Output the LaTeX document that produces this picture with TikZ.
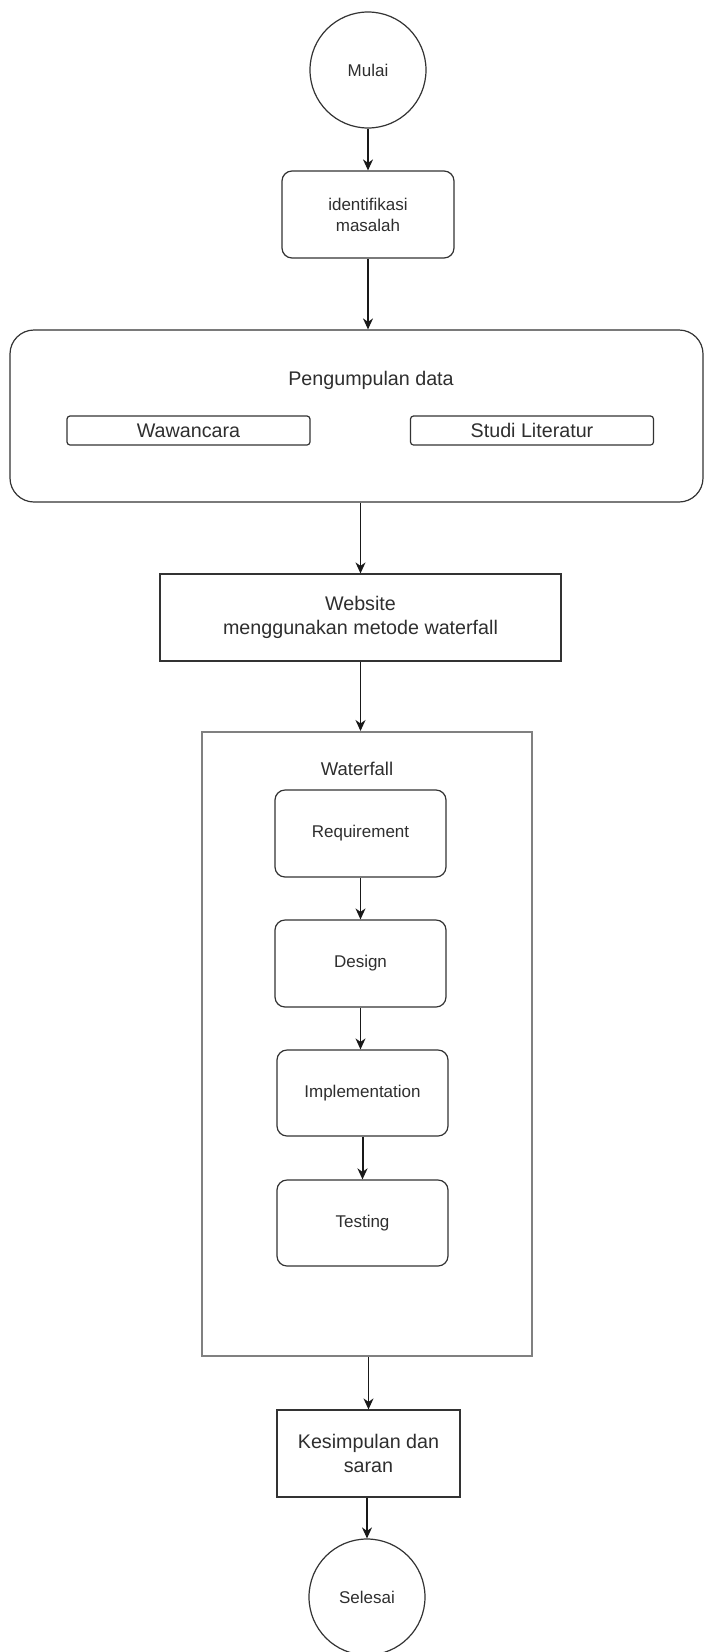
\documentclass[tikz,border=0pt]{standalone}
\usepackage{fontspec}
\setmainfont{Liberation Sans}
\usetikzlibrary{arrows.meta}
\begin{document}
\begin{tikzpicture}[x=1pt,y=-1pt,
  line width=1.2pt,
  every node/.style={text=black!82, align=center, inner sep=0pt},
  smalltxt/.style={font=\fontsize{17}{21}\selectfont},
  bigtxt/.style={font=\fontsize{19.7}{24.5}\selectfont},
  term/.style={draw=black!80, circle, minimum size=116pt, smalltxt},
  rbox/.style={draw=black!80, rounded corners=10pt, smalltxt},
  pbox/.style={draw=black!80, bigtxt},
  sub/.style={draw=black!80, rounded corners=3pt, minimum width=243pt, minimum height=29pt, bigtxt},
  flow/.style={-{Stealth[length=11pt,width=10pt,inset=3.5pt]}, draw=black!90}
]
\useasboundingbox (0,0) rectangle (705,1652);

% nodes
\node[term] (mulai) at (368,70) {Mulai};
\node[rbox, minimum width=172pt, minimum height=87pt] (ident) at (368,214.5) {identifikasi\\masalah};

\node[draw=black!80, rounded corners=24pt, minimum width=693pt, minimum height=172pt] (peng) at (356.5,416) {};
\node[bigtxt] (pengt) at (371,380) {Pengumpulan data};
\node[sub] (waw) at (188.5,430.5) {Wawancara};
\node[sub] (studi) at (532,430.5) {Studi Literatur};

\node[pbox, minimum width=401pt, minimum height=87pt] (web) at (360.5,617.5) {Website\\menggunakan metode waterfall};

\node[draw=black!50, line width=2pt, minimum width=330pt, minimum height=624pt] (wf) at (367,1044) {};
\node[font=\fontsize{18.5}{22}\selectfont] (wft) at (357,769) {Waterfall};

\node[rbox, minimum width=171pt, minimum height=87pt] (req) at (360.5,833.5) {Requirement};
\node[rbox, minimum width=171pt, minimum height=87pt] (des) at (360.5,963.5) {Design};
\node[rbox, minimum width=171pt, minimum height=86pt] (imp) at (362.5,1093) {Implementation};
\node[rbox, minimum width=171pt, minimum height=86pt] (test) at (362.5,1223) {Testing};

\node[pbox, minimum width=183pt, minimum height=87pt] (kes) at (368.5,1453.5) {Kesimpulan dan\\saran};
\node[term] (sel) at (367,1597) {Selesai};

% connectors
\draw[flow] (mulai.south) -- (ident.north);
\draw[flow] (ident.south) -- (ident.south |- peng.north);
\draw[flow] (web.north |- peng.south) -- (web.north);
\draw[flow] (web.south) -- (web.south |- wf.north);
\draw[flow] (req.south) -- (req.south |- des.north);
\draw[flow] (des.south) -- (des.south |- imp.north);
\draw[flow, line width=2pt] (imp.south) -- (test.north);
\draw[flow] (kes.north |- wf.south) -- (kes.north);
\draw[flow] (kes.south -| sel.north) -- (sel.north);
\end{tikzpicture}
\end{document}
